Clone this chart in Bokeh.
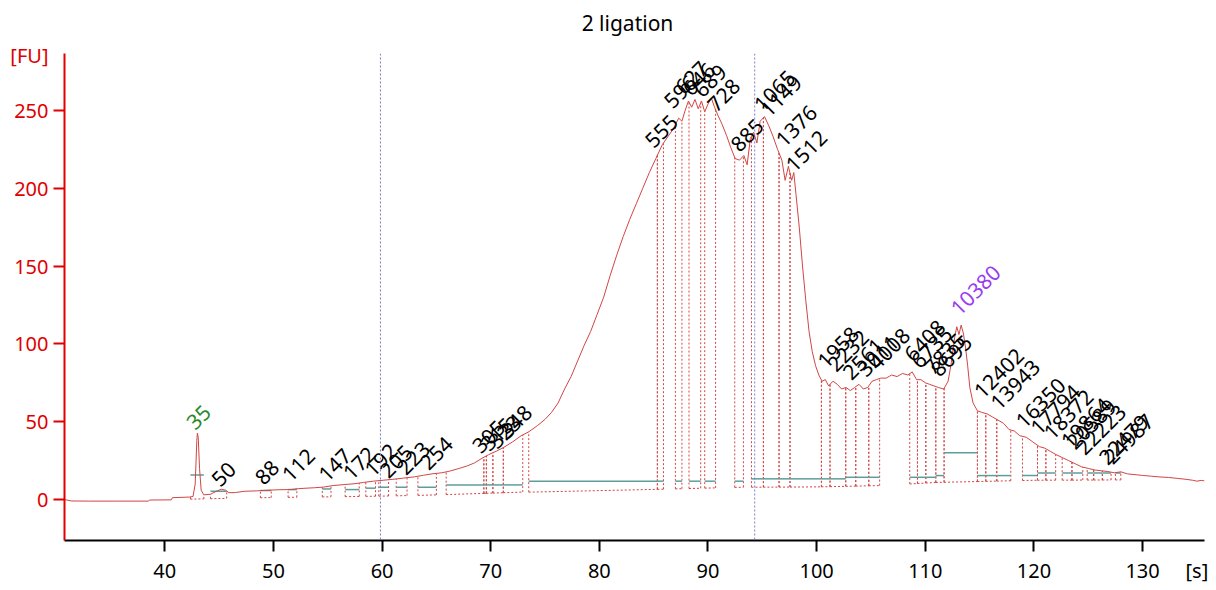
import numpy as np
from bokeh.plotting import figure
from bokeh.models import Range1d, FixedTicker, Span, LinearAxis
from bokeh.core.properties import value
from bokeh.embed import file_html
from bokeh.resources import INLINE

# ---- electropherogram trace (time [s], fluorescence [FU]) ----
time_s = [30.77, 31.4, 33.0, 35.5, 38.5, 38.6, 40.6, 40.7, 42.3, 42.6, 42.8, 42.95, 43.0, 43.08,
          43.2, 43.35, 43.6, 44.2, 44.8, 45.2, 45.6, 45.9, 46.5, 47.3, 48.5, 49.5, 50.5, 51.5,
          52.3, 53.0, 53.8, 54.6, 55.5, 56.5, 57.5, 58.3, 59.2, 60.1, 61.0, 62.0, 63.0, 63.8,
          64.6, 65.5, 66.2, 67.0, 67.8, 68.5, 69.2, 69.8, 70.5, 71.2, 72.0, 72.8, 73.5, 74.3,
          75.0, 75.6, 76.2, 76.8, 77.4, 78.0, 78.6, 79.2, 79.8, 80.4, 81.0, 81.6, 82.2, 82.8,
          83.4, 84.0, 84.6, 85.2, 85.8, 86.3, 86.8, 87.3, 87.6, 87.9, 88.2, 88.5, 88.8, 89.1,
          89.4, 89.7, 90.0, 90.3, 90.6, 90.9, 91.3, 91.7, 92.1, 92.5, 92.9, 93.3, 93.6, 93.9,
          94.2, 94.5, 94.8, 95.2, 95.6, 96.0, 96.4, 96.8, 97.1, 97.4, 97.7, 97.9, 98.1, 98.4,
          98.7, 99.0, 99.3, 99.6, 99.9, 100.2, 100.5, 100.8, 101.1, 101.5, 101.9, 102.3, 102.7,
          103.1, 103.5, 103.9, 104.3, 104.7, 105.1, 105.5, 105.9, 106.4, 106.9, 107.4, 107.9,
          108.4, 108.8, 109.2, 109.6, 110.0, 110.4, 110.8, 111.2, 111.7, 112.1, 112.4, 112.7,
          112.9, 113.1, 113.3, 113.5, 113.7, 113.9, 114.1, 114.4, 114.8, 115.2, 115.7, 116.2,
          116.7, 117.2, 117.7, 118.2, 118.7, 119.3, 119.9, 120.5, 121.0, 121.5, 122.0, 122.6,
          123.2, 123.8, 124.4, 125.0, 125.6, 126.2, 126.8, 127.4, 128.0, 128.6, 129.3, 130.0,
          130.8, 131.6, 132.4, 133.2, 134.0, 134.6, 135.0, 135.4, 135.7]
fu = [0.0, -0.9, -1.0, -1.0, -1.0, -0.3, -0.2, 1.2, 1.6, 2.0, 10.0, 38.0, 42.6, 40.0,
      20.0, 6.0, 3.0, 3.4, 5.5, 6.6, 6.0, 4.4, 4.5, 5.3, 5.6, 6.0, 6.3, 6.4,
      7.0, 7.3, 7.6, 8.0, 9.0, 9.6, 10.2, 11.0, 11.8, 12.4, 13.0, 13.8, 14.6, 15.6,
      16.5, 17.2, 18.2, 19.8, 21.5, 23.5, 26.5, 28.8, 31.0, 33.5, 37.0, 41.0, 43.5, 47.5,
      51.5, 56.0, 62.0, 71.0, 79.0, 89.0, 99.0, 108.0, 119.0, 130.0, 144.0, 157.0, 169.0, 180.0,
      190.0, 200.0, 210.0, 219.0, 228.0, 233.0, 238.0, 245.0, 243.0, 250.0, 256.0, 252.0, 257.0, 251.0,
      256.0, 249.0, 254.0, 258.0, 252.0, 247.0, 241.0, 234.0, 226.0, 219.0, 218.0, 221.0, 215.0, 232.0,
      236.0, 229.0, 243.0, 246.0, 240.0, 233.0, 225.0, 218.0, 205.0, 214.0, 205.0, 210.0, 196.0, 175.0,
      150.0, 128.0, 108.0, 95.0, 86.0, 80.0, 76.0, 77.0, 73.0, 76.0, 74.0, 71.0, 72.0,
      70.0, 72.0, 74.0, 71.0, 72.0, 76.0, 77.0, 78.0, 78.0, 80.0, 79.0, 81.0,
      80.0, 82.0, 77.0, 77.0, 75.0, 74.0, 73.0, 72.0, 71.0, 76.0, 88.0, 104.0,
      111.0, 106.0, 112.0, 107.0, 98.0, 86.0, 72.0, 62.0, 57.0, 56.0, 55.0, 53.0,
      51.0, 49.0, 45.0, 44.0, 41.0, 40.0, 37.0, 34.0, 33.0, 31.0, 29.0, 27.0,
      25.0, 23.0, 21.0, 20.0, 19.0, 18.5, 18.0, 17.2, 17.8, 16.5, 16.0, 15.5,
      15.0, 14.5, 14.2, 13.6, 13.0, 12.4, 11.8, 12.3, 12.0]

# ---- called peaks: size label, apex time, apex height ----
peak_labels = ["35", "50", "88", "112", "147", "172", "192", "205", "223", "254",
               "305", "315", "323", "348", "555", "596", "627", "646", "689", "728",
               "885", "1065", "1149", "1376", "1512", "1958", "2232", "2561", "3011", "4008",
               "6408", "6735", "7835", "8695", "10380", "12402", "13943", "16350", "17794",
               "18372", "19864", "20589", "22223", "22479", "24987"]
peak_time = [42.7, 45.0, 49.0, 51.5, 54.85, 57.1, 59.1, 60.5, 62.1, 64.2,
             69.0, 69.8, 70.5, 71.5, 84.9, 86.66, 87.7, 88.35, 89.4, 90.65,
             92.8, 94.95, 95.55, 96.94, 97.86, 100.78, 101.7, 103.1, 104.46, 105.5,
             108.76, 109.4, 110.6, 111.2, 113.05, 115.2, 116.7, 119.04, 120.4,
             121.6, 123.2, 123.7, 124.6, 126.7, 127.15]
peak_fu = [42.7, 6.1, 7.2, 9.3, 9.3, 10.4, 12.5, 11.5, 13.6, 16.8,
           27.5, 29.0, 30.5, 37.0, 223.6, 249.0, 258.0, 257.0, 256.0, 246.8,
           221.0, 246.8, 243.6, 224.3, 208.3, 82.0, 80.0, 74.6, 76.7, 81.0,
           86.4, 82.0, 77.8, 76.7, 116.0, 62.8, 55.3, 43.6, 39.3,
           36.2, 30.8, 30.0, 26.5, 20.0, 20.5]
lower_marker = "35"
upper_marker = "10380"

# ---- integration regions: start, end, level of the region line ----
region_start = [42.36, 44.2, 48.8, 51.35, 54.5, 56.6, 58.5, 59.7, 61.3, 63.3,
                65.9, 69.37, 69.6, 70.2, 71.16, 73.5, 85.34, 87.0, 88.25, 89.7,
                92.46, 94.0, 95.1, 96.54, 97.55, 100.44, 101.23, 102.68, 103.6, 104.8,
                108.57, 109.28, 110.05, 110.97, 111.73, 114.8, 115.57, 116.58, 118.95, 120.33,
                121.1, 122.6, 123.5, 124.9, 125.5, 126.3, 127.5]
region_end = [43.6, 45.7, 49.8, 52.16, 55.3, 57.9, 59.4, 60.6, 62.3, 65.0,
              69.37, 69.6, 70.2, 71.16, 72.95, 85.34, 85.9, 87.6, 89.33, 90.7,
              93.26, 95.1, 96.54, 97.55, 100.44, 101.23, 102.68, 103.6, 104.8, 105.8,
              109.28, 110.05, 110.97, 111.73, 114.8, 115.57, 116.58, 117.87, 120.33, 121.1,
              122.0, 123.5, 124.5, 125.5, 126.3, 127.1, 128.0]
region_level = [15.8, 5.3, 5.8, 6.4, 6.8, 6.4, 7.3, 7.9, 7.9, 7.9,
                9.4, 9.4, 9.4, 9.4, 9.4, 11.8, 11.8, 11.8, 11.8, 11.8,
                11.8, 13.3, 13.3, 13.3, 13.3, 13.3, 13.3, 14.3, 14.3, 14.3,
                14.3, 14.3, 14.3, 15.4, 30.1, 15.4, 15.4, 15.4, 15.4, 17.1,
                17.1, 17.1, 17.1, 17.1, 17.1, 17.1, 17.1]

# ---- detected baseline ----
baseline_time = [30.8, 42.0, 46.0, 50.0, 56.0, 60.0, 64.0, 66.0, 73.0, 74.0, 85.0, 93.0,
                 100.0, 106.0, 111.0, 115.0, 120.0, 128.0, 135.7]
baseline_fu = [0.0, 0.2, 0.8, 1.3, 1.8, 2.2, 2.8, 3.2, 4.8, 4.7, 6.5, 7.9,
               8.1, 9.0, 11.0, 11.6, 12.4, 12.6, 13.0]

# ---- ladder markers (lower / upper) ----
marker_time = [59.85, 94.3]

x_ticks = [40, 50, 60, 70, 80, 90, 100, 110, 120, 130]
y_ticks = [0, 50, 100, 150, 200, 250]
x_unit, x_unit_pos = "[s]", 135
y_unit, y_unit_pos = "[FU]", 285
title_text, title_pos = "2 ligation", 82.59

FONT = "Noto Sans"
RED_AXIS = "#e00000"
TRACE = "#d24545"
TEAL = "#5f9e98"
BLUE = "#7a7ac8"

p = figure(width=1208, height=586, title=None,
           x_range=Range1d(30.77, 135.7), y_range=Range1d(-26.3, 286.5),
           output_backend="svg", toolbar_location=None,
           min_border_left=64, min_border_right=4, min_border_top=53, min_border_bottom=46)
p.background_fill_color = "white"
p.border_fill_color = "white"
p.outline_line_color = None
p.xgrid.visible = False
p.ygrid.visible = False

x_axis = p.below[0]
y_axis = p.left[0]

# axes: visible tick marks are drawn as minor ticks so the unit label gets no mark
x_axis.ticker = FixedTicker(ticks=x_ticks + [x_unit_pos], minor_ticks=x_ticks)
y_axis.ticker = FixedTicker(ticks=y_ticks + [y_unit_pos], minor_ticks=y_ticks)
x_axis.major_label_overrides = {x_unit_pos: x_unit}
y_axis.major_label_overrides = {y_unit_pos: y_unit}
for ax, col in ((x_axis, "black"), (y_axis, RED_AXIS)):
    ax.axis_line_color = col
    ax.axis_line_width = 2
    ax.major_tick_line_color = None
    ax.major_tick_out = 11
    ax.major_tick_in = 0
    ax.minor_tick_line_color = col
    ax.minor_tick_line_width = 2
    ax.minor_tick_out = 11
    ax.minor_tick_in = 0
    ax.major_label_text_color = col
    ax.major_label_text_font = FONT
    ax.major_label_text_font_size = "20px"
    ax.major_label_standoff = 5

# title drawn as the single label of an axis above the plot
title_axis = LinearAxis(ticker=FixedTicker(ticks=[title_pos], minor_ticks=[]),
                        major_label_overrides={title_pos: title_text},
                        axis_line_color=None, major_tick_line_color=None,
                        minor_tick_line_color=None, major_tick_out=0, major_tick_in=0,
                        minor_tick_out=0, minor_tick_in=0,
                        major_label_standoff=17, major_label_text_font=FONT,
                        major_label_text_font_size="21px", major_label_text_color="black")
p.add_layout(title_axis, "above")

# marker lines
for t in marker_time:
    p.add_layout(Span(location=t, dimension="height", line_color=BLUE,
                      line_dash="2 2", line_width=1))

t_arr = np.array(time_s)
f_arr = np.array(fu)
rs = np.array(region_start)
re_ = np.array(region_end)
lv = np.array(region_level)
b_s = np.interp(rs, baseline_time, baseline_fu)
b_e = np.interp(re_, baseline_time, baseline_fu)
top_s = np.interp(rs, t_arr, f_arr)
top_e = np.interp(re_, t_arr, f_arr)

# region boundaries (dotted)
p.segment(x0=np.r_[rs, re_], y0=np.r_[b_s, b_e], x1=np.r_[rs, re_], y1=np.r_[top_s, top_e],
          line_color=TRACE, line_dash="2 2", line_width=1)
p.segment(x0=rs, y0=b_s, x1=re_, y1=b_e, line_color=TRACE, line_dash="2 2", line_width=1)
# region level lines
p.segment(x0=rs, y0=lv, x1=re_, y1=lv, line_color=TEAL, line_width=1.5)

# trace
p.line(time_s, fu, line_color=TRACE, line_width=1)

# peak labels
colors = ["#2a8a2a" if s == lower_marker else ("#9a3cf0" if s == upper_marker else "black")
          for s in peak_labels]
p.text(x=np.array(peak_time) - 0.4, y=np.array(peak_fu) + 5.0, text=peak_labels,
       angle=np.pi / 4, text_color=colors, text_font=value(FONT), text_font_size="21px",
       text_align="left", text_baseline="alphabetic")

open("out.html", "w").write(file_html(p, INLINE))
